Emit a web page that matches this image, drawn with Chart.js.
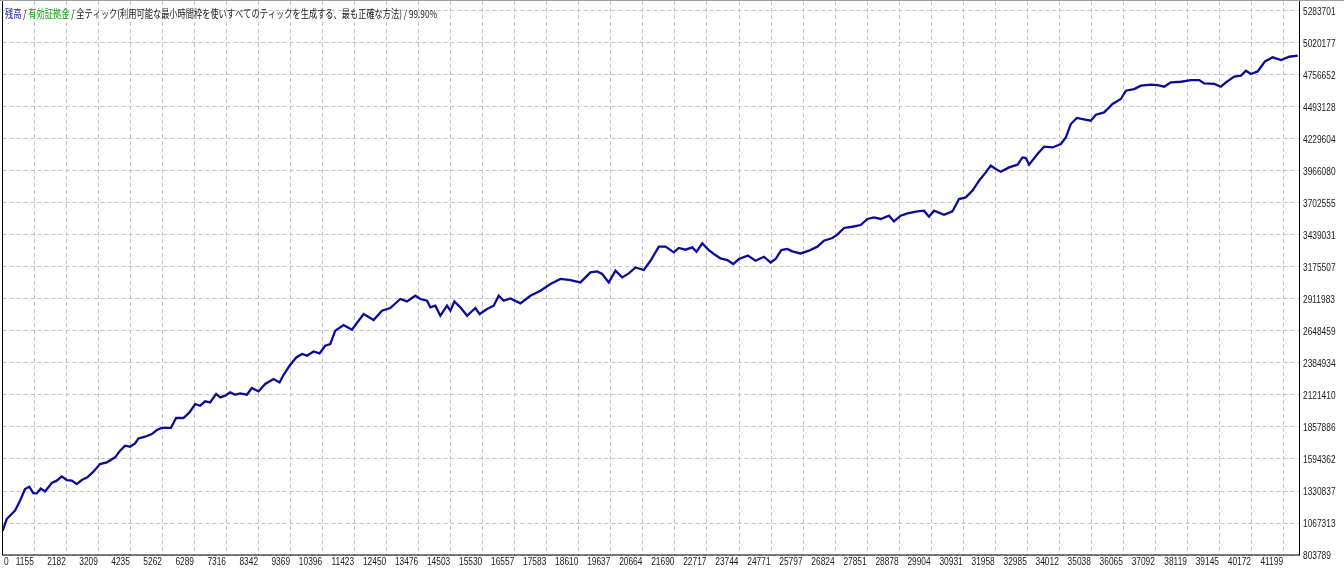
<!DOCTYPE html>
<html><head><meta charset="utf-8">
<script src="https://cdn.jsdelivr.net/npm/chart.js@4"></script>
<style>html,body{margin:0;padding:0;background:#fff;overflow:hidden}#wrap{position:relative;width:1344px;height:568px}</style>
</head><body><div id="wrap"><canvas id="c" width="1344" height="568"></canvas></div>
<script>
// trade number (x) and balance (y)
const tradeNumbers = [142,270,430,536,697,857,995,1123,1232,1361,1499,1714,1874,2034,2195,2355,2516,2676,2856,3048,3263,3478,3744,3905,4065,4225,4386,4492,4707,4922,5082,5242,5531,5701,5935,6128,6311,6471,6631,6792,6984,7113,7273,7433,7594,7754,7969,8130,8341,8556,8822,9015,9143,9336,9551,9734,9894,10106,10298,10481,10641,10802,11068,11337,11710,12030,12300,12566,12887,13102,13368,13529,13744,13849,14010,14170,14385,14491,14619,14812,15027,15293,15431,15668,15880,16041,16201,16416,16737,17057,17378,17699,18020,18341,18661,18982,19197,19358,19569,19785,19999,20211,20426,20692,20907,21173,21388,21654,21815,22030,22245,22383,22566,22777,22938,23153,23368,23560,23740,24028,24275,24542,24757,24917,25100,25292,25453,25719,25985,26255,26466,26736,26896,27108,27378,27644,27859,28070,28285,28552,28712,28927,29142,29463,29675,29835,29995,30316,30586,30797,31012,31227,31439,31654,31814,31975,32135,32401,32671,32831,32937,33043,33312,33524,33794,34060,34220,34381,34573,34756,35022,35183,35449,35558,35718,35985,36145,36411,36626,36947,37162,37374,37589,37909,38230,38497,38657,38978,39193,39353,39619,39834,39995,40155,40370,40604,40851,41117,41384,41653];
const balance = [1004000,1100000,1141000,1169000,1251000,1347000,1366000,1314000,1311000,1352000,1328000,1397000,1416000,1451000,1421000,1416000,1388000,1421000,1443000,1490000,1553000,1566000,1608000,1663000,1704000,1696000,1723000,1764000,1778000,1800000,1833000,1850000,1850000,1932000,1932000,1978000,2047000,2033000,2069000,2060000,2130000,2102000,2116000,2143000,2124000,2135000,2124000,2179000,2151000,2212000,2253000,2225000,2286000,2363000,2431000,2459000,2445000,2480000,2464000,2527000,2541000,2651000,2698000,2659000,2788000,2739000,2816000,2838000,2912000,2892000,2939000,2912000,2898000,2843000,2857000,2774000,2857000,2816000,2892000,2843000,2774000,2838000,2788000,2830000,2857000,2939000,2898000,2917000,2876000,2939000,2980000,3036000,3077000,3068000,3049000,3131000,3139000,3118000,3049000,3145000,3090000,3123000,3172000,3151000,3227000,3343000,3343000,3296000,3332000,3318000,3337000,3301000,3370000,3315000,3283000,3246000,3233000,3200000,3241000,3269000,3227000,3260000,3213000,3241000,3315000,3324000,3304000,3287000,3310000,3343000,3392000,3414000,3442000,3497000,3507000,3521000,3571000,3584000,3571000,3598000,3551000,3598000,3617000,3633000,3639000,3590000,3639000,3606000,3633000,3735000,3749000,3804000,3886000,3955000,4010000,3983000,3960000,3996000,4018000,4078000,4073000,4018000,4106000,4166000,4160000,4188000,4243000,4353000,4403000,4394000,4380000,4430000,4449000,4477000,4518000,4559000,4627000,4641000,4669000,4677000,4674000,4660000,4696000,4701000,4715000,4715000,4687000,4683000,4660000,4696000,4743000,4751000,4792000,4765000,4786000,4869000,4902000,4880000,4907000,4916000];
const xTickLabels = [0,1155,2182,3209,4235,5262,6289,7316,8342,9369,10396,11423,12450,13476,14503,15530,16557,17583,18610,19637,20664,21690,22717,23744,24771,25797,26824,27851,28878,29904,30931,31958,32985,34012,35038,36065,37092,38119,39145,40172,41199];
const yTickLabels = [803789,1067313,1330837,1594362,1857886,2121410,2384934,2648459,2911983,3175507,3439031,3702555,3966080,4229604,4493128,4756652,5020177,5283701];
const headerParts = [
  {text:'残高', color:'#1c1c9c'},
  {text:' / ', color:'#202020'},
  {text:'有効証拠金', color:'#17a017'},
  {text:' / 全ティック(利用可能な最小時間枠を使いすべてのティックを生成する、最も正確な方法) / 99.90%', color:'#202020'}
];
const X_MIN = 135, X_MAX = 41711, Y_MIN = 803789, Y_MAX = 5366051;

const points = tradeNumbers.map((x, i) => ({x: x, y: balance[i]}));

const textPlugin = {
  id: 'mtText',
  afterDraw(chart) {
    const ctx = chart.ctx, a = chart.chartArea;
    const xs = chart.scales.x, ys = chart.scales.y;
    ctx.save();
    // frame
    ctx.strokeStyle = '#000'; ctx.lineWidth = 1; ctx.setLineDash([]);
    ctx.beginPath();
    ctx.moveTo(a.left, a.top); ctx.lineTo(a.left, a.bottom); ctx.lineTo(a.right, a.bottom); ctx.lineTo(a.right, a.top);
    ctx.stroke();
    ctx.strokeStyle = '#a0a0a0';
    ctx.beginPath(); ctx.moveTo(0, 0.5); ctx.lineTo(1344, 0.5); ctx.stroke();
    // axis labels
    const sx = 0.76;
    ctx.font = '11px "Liberation Sans", Arial, sans-serif';
    ctx.fillStyle = '#1a1a1a';
    ctx.textBaseline = 'middle';
    ys.ticks.forEach(t => {
      const py = ys.getPixelForValue(t.value);
      ctx.save(); ctx.translate(a.right + 3.5, py + 1); ctx.scale(sx, 1);
      ctx.textAlign = 'left'; ctx.fillText(String(t.value), 0, 0); ctx.restore();
    });
    xs.ticks.forEach((t, i) => {
      const px = xs.getPixelForValue(t.value);
      ctx.save(); ctx.translate(i === 0 ? a.left + 1.5 : px - 0.5, 562); ctx.scale(sx, 1);
      ctx.textAlign = i === 0 ? 'left' : 'right';
      ctx.fillText(String(xTickLabels[i]), 0, 0); ctx.restore();
    });
    // header
    ctx.font = '11px "Noto Sans CJK JP", sans-serif';
    let w = 0; headerParts.forEach(p => { w += ctx.measureText(p.text).width; });
    const hs = 432 / w;
    ctx.save(); ctx.translate(5, 13.5); ctx.scale(hs, 1);
    ctx.textAlign = 'left';
    let cx = 0;
    headerParts.forEach(p => { ctx.fillStyle = p.color; ctx.fillText(p.text, cx, 0); cx += ctx.measureText(p.text).width; });
    ctx.restore();
    ctx.restore();
  }
};

new Chart(document.getElementById('c'), {
  type: 'line',
  data: { datasets: [{ data: points, borderColor: '#0c0c9a', borderWidth: 2.3, pointRadius: 0, tension: 0, fill: false }] },
  options: {
    responsive: false, animation: false, devicePixelRatio: 1,
    layout: { padding: { left: 2.5, right: 44.5, top: 1, bottom: 13 } },
    plugins: { legend: { display: false }, tooltip: { enabled: false } },
    scales: {
      x: {
        type: 'linear', min: X_MIN, max: X_MAX,
        afterBuildTicks: s => { s.ticks = xTickLabels.map((v, i) => ({ value: i === 0 ? X_MIN : v })); },
        afterFit: s => { s.height = 0; },
        ticks: { display: false, autoSkip: false },
        grid: { color: '#c4c4c4', lineWidth: 1, drawTicks: false },
        border: { display: false, dash: [4, 3] }
      },
      y: {
        type: 'linear', position: 'right', min: Y_MIN, max: Y_MAX,
        afterBuildTicks: s => { s.ticks = yTickLabels.map(v => ({ value: v })); },
        afterFit: s => { s.width = 0; },
        ticks: { display: false, autoSkip: false },
        grid: { color: '#c4c4c4', lineWidth: 1, drawTicks: false },
        border: { display: false, dash: [4, 3] }
      }
    }
  },
  plugins: [textPlugin]
});
</script>
</body></html>
